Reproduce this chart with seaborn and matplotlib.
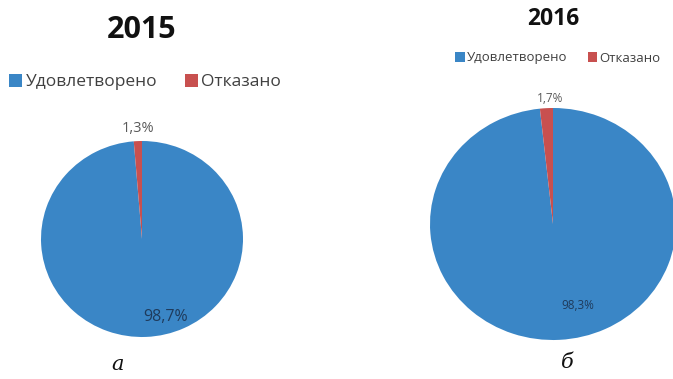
import matplotlib
matplotlib.use("Agg")
import matplotlib.pyplot as plt
import seaborn as sns
from matplotlib.patches import Patch

sns.set_theme(style="white")
plt.rcParams['font.family'] = ['Open Sans', 'DejaVu Sans']

categories = ["Удовлетворено", "Отказано"]
years = ["2015", "2016"]
values_2015 = [98.7, 1.3]
values_2016 = [98.3, 1.7]
captions = ["а", "б"]

colors = ["#3A86C6", "#C8504F"]

W, H = 673, 379
fig = plt.figure(figsize=(W / 100, H / 100), dpi=100)
fig.patch.set_facecolor("white")


def px_axes(x0, y0, x1, y1):
    # axes placed by pixel box (top-left origin)
    return fig.add_axes([x0 / W, (H - y1) / H, (x1 - x0) / W, (y1 - y0) / H])


def fmt(v):
    return f"{v:.1f}%".replace(".", ",")


def draw_pie(ax, vals):
    ax.pie(vals, colors=colors, startangle=90, counterclock=False,
           radius=1.0, wedgeprops=dict(linewidth=0))
    ax.set_xlim(-1, 1)
    ax.set_ylim(-1, 1)
    ax.set_aspect("auto")
    ax.axis("off")


# ---- 2015 ----
ax1 = px_axes(41, 141, 243, 337)
draw_pie(ax1, values_2015)
ax1.text(-0.04, 1.13, fmt(values_2015[1]), ha="center", va="center",
         fontsize=10.5, color="#595959", clip_on=False)
ax1.text(0.23, -0.80, fmt(values_2015[0]), ha="center", va="center",
         fontsize=11.5, color="#1F3B5C")

fig.text(142 / W, 1 - 30 / H, years[0], ha="center", va="center",
         fontsize=22, fontweight="bold", color="#111111")
handles = [Patch(facecolor=c, edgecolor="none") for c in colors]
fig.legend(handles, categories, loc="center", bbox_to_anchor=(145 / W, 1 - 82 / H),
           ncol=2, frameon=False, fontsize=12.5, handlelength=0.75,
           handleheight=0.75, handletextpad=0.2, columnspacing=1.6,
           labelcolor="#404040")
fig.text(118 / W, 1 - 364 / H, captions[0], ha="center", va="center",
         fontsize=15, style="italic", family="DejaVu Serif", color="#111111")

# ---- 2016 ----
ax2 = px_axes(430, 108, 676, 340)
draw_pie(ax2, values_2016)
ax2.text(-0.02, 1.08, fmt(values_2016[1]), ha="center", va="center",
         fontsize=8.5, color="#595959", clip_on=False)
ax2.text(0.20, -0.70, fmt(values_2016[0]), ha="center", va="center",
         fontsize=8.5, color="#1F3B5C")

fig.text(553 / W, 1 - 19 / H, years[1], ha="center", va="center",
         fontsize=16.5, fontweight="bold", color="#111111")
fig.legend(handles, categories, loc="center", bbox_to_anchor=(558 / W, 1 - 58 / H),
           ncol=2, frameon=False, fontsize=9.5, handlelength=0.7,
           handleheight=0.7, handletextpad=0.2, columnspacing=1.5,
           labelcolor="#404040")
fig.text(567 / W, 1 - 363 / H, captions[1], ha="center", va="center",
         fontsize=15, style="italic", family="DejaVu Serif", color="#111111")

fig.savefig("out.png", dpi=100, facecolor="white")
